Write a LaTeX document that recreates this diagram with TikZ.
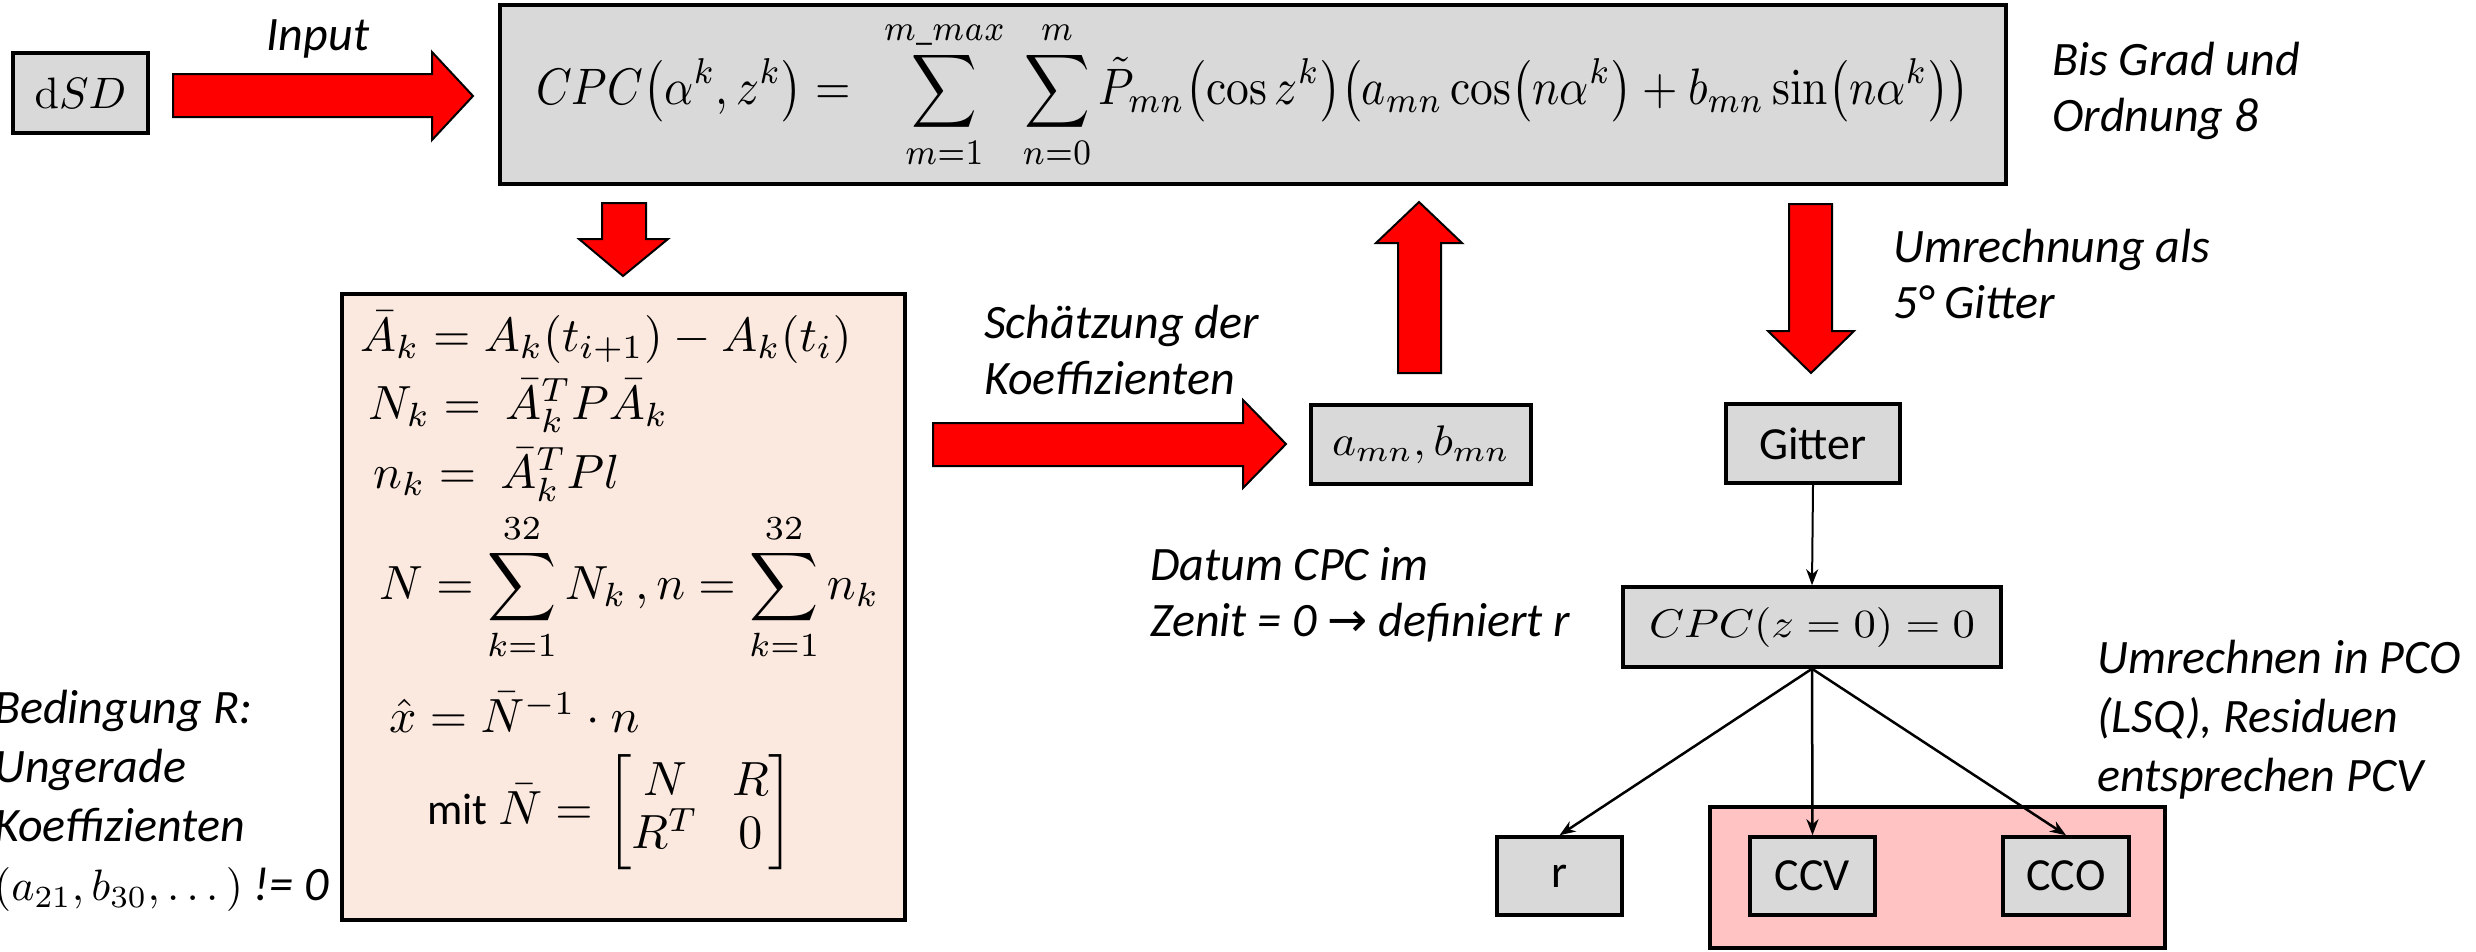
\documentclass[tikz,border=0pt]{standalone}
\usepackage{amsmath}
\usepackage{graphicx}
\usepackage[no-math]{fontspec}
\setmainfont{Carlito}
\newfontfamily\symfont{DejaVu Sans}
\usetikzlibrary{arrows.meta}
\definecolor{boxgray}{HTML}{D9D9D9}
\definecolor{peach}{HTML}{FBE9DF}
\definecolor{rosa}{HTML}{FFC3C3}
\definecolor{blockred}{HTML}{FF0000}
\newcommand{\scmath}[2]{\scalebox{#1}{\normalsize$#2$}}
\begin{document}
\begin{tikzpicture}[x=1pt,y=-1pt,
  graybox/.style={draw=black, line width=3.5pt, fill=boxgray, inner sep=0pt, align=center},
  lbl/.style={font=\fontsize{48}{56}\selectfont\itshape, inner sep=0pt, align=left, anchor=north west},
  widelbl/.style={lbl, font=\fontsize{48}{59}\selectfont\itshape},
  blockarrow/.style={fill=blockred, draw=black, line width=2pt, line join=miter},
  conn/.style={draw=black, line width=2.5pt, -{Stealth[length=16pt,width=12pt,inset=5pt]}},
  mathtxt/.style={inner sep=0pt, anchor=base west},
  boxtxt/.style={font=\fontsize{46}{54}\selectfont},
]
\useasboundingbox (0,0) rectangle (2476,951);

% top row
\node[graybox, minimum width=135pt, minimum height=80pt] (dsd) at (80.5,93) {\scmath{4.4}{\mathrm{d}SD}};
\node[lbl, anchor=base] (input) at (318,50) {Input};
\draw[blockarrow] (173,74) -- (432,74) -- (432,52) -- (473,96) -- (432,140) -- (432,117) -- (173,117) -- cycle;

\node[graybox, minimum width=1506pt, minimum height=179pt] (cpc) at (1253,94.5)
 {\resizebox*{1433pt}{150pt}{$\displaystyle CPC\bigl(\alpha^k, z^k\bigr) = \ \ \sum_{m=1}^{m\_max}\ \sum_{n=0}^{m} \tilde{P}_{mn}\bigl(\cos z^k\bigr)\bigl(a_{mn}\cos\bigl(n\alpha^k\bigr) + b_{mn}\sin\bigl(n\alpha^k\bigr)\bigr)$}};
\node[lbl] (bis) at (2052,42) {Bis Grad und\\Ordnung 8};

% estimation box
\draw[blockarrow] (602,203) -- (646,203) -- (646,239) -- (668,239) -- (623,276) -- (579,239) -- (602,239) -- cycle;
\node[draw=black, line width=3.5pt, fill=peach, minimum width=563pt, minimum height=626pt, inner sep=0pt] (est) at (623.5,607) {};
\node[mathtxt] (l1) at (360,351) {\scmath{4.8}{\bar{A}_k = A_k(t_{i+1}) - A_k(t_i)}};
\node[mathtxt] (l2) at (368,419) {\scmath{4.8}{N_k = \ \bar{A}_k^T P \bar{A}_k}};
\node[mathtxt] (l3) at (373,488) {\scmath{4.8}{n_k = \ \bar{A}_k^T P l}};
\node[mathtxt] (l4) at (379,599) {\scmath{4.8}{\displaystyle N = \sum_{k=1}^{32} N_k\,, n = \sum_{k=1}^{32} n_k}};
\node[mathtxt] (l5) at (389,732) {\scmath{4.8}{\hat{x} = \bar{N}^{-1}\cdot n}};
\node[mathtxt] (l6) at (427,824) {\scalebox{4.8}{\normalsize{\fontsize{9.2}{11}\selectfont mit} $\bar{N} = \setlength{\arraycolsep}{3.5pt}\renewcommand{\arraystretch}{0.72}\begin{bmatrix} N & R \\ R^T & 0 \end{bmatrix}$}};

\node[widelbl] (bed) at (-6,690) {Bedingung R:\\Ungerade\\Koeffizienten\\\scmath{4.4}{(a_{21}, b_{30}, \ldots\,)} != 0};

% coefficients
\draw[blockarrow] (933,423) -- (1243,423) -- (1243,400) -- (1286,444) -- (1243,488) -- (1243,466) -- (933,466) -- cycle;
\node[lbl] (schaetz) at (984,305) {Schätzung der\\Koeffizienten};
\node[graybox, minimum width=220pt, minimum height=79pt] (amn) at (1421,444.5) {\resizebox*{178pt}{38pt}{$a_{mn}, b_{mn}$}};
\draw[blockarrow] (1398,373) -- (1398,243) -- (1376,243) -- (1419,202) -- (1462,243) -- (1441,243) -- (1441,373) -- cycle;

\node[lbl] (datum) at (1150,547) {Datum CPC im\\Zenit = 0 {\symfont\upshape →} definiert r};

% right column
\draw[blockarrow] (1789,204) -- (1832,204) -- (1832,331) -- (1854,331) -- (1811,373) -- (1768,331) -- (1789,331) -- cycle;
\node[lbl] (umr) at (1893,229) {Umrechnung als\\5° Gitter};
\node[graybox, boxtxt, minimum width=174pt, minimum height=79pt] (gitter) at (1813,443.5) {Gitter};
\node[graybox, minimum width=378pt, minimum height=80pt] (cpc0) at (1812,627) {\resizebox*{326pt}{40pt}{$CPC(z=0)=0$}};
\node[widelbl] (pco) at (2097,640) {Umrechnen in PCO\\(LSQ), Residuen\\entsprechen PCV};

\node[draw=black, line width=3.5pt, fill=rosa, minimum width=455pt, minimum height=141pt, inner sep=0pt] (grp) at (1937.5,877.5) {};
\node[graybox, boxtxt, minimum width=125pt, minimum height=78pt] (r) at (1559.5,876) {r};
\node[graybox, boxtxt, minimum width=125pt, minimum height=78pt] (ccv) at (1812.5,876) {CCV};
\node[graybox, boxtxt, minimum width=126pt, minimum height=78pt] (cco) at (2066,876) {CCO};

\draw[conn, line width=2pt] (gitter.south) -- (cpc0.north);
\draw[conn] (cpc0.south) -- (r.north);
\draw[conn] (cpc0.south) -- (ccv.north);
\draw[conn] (cpc0.south) -- (cco.north);
\end{tikzpicture}
\end{document}
